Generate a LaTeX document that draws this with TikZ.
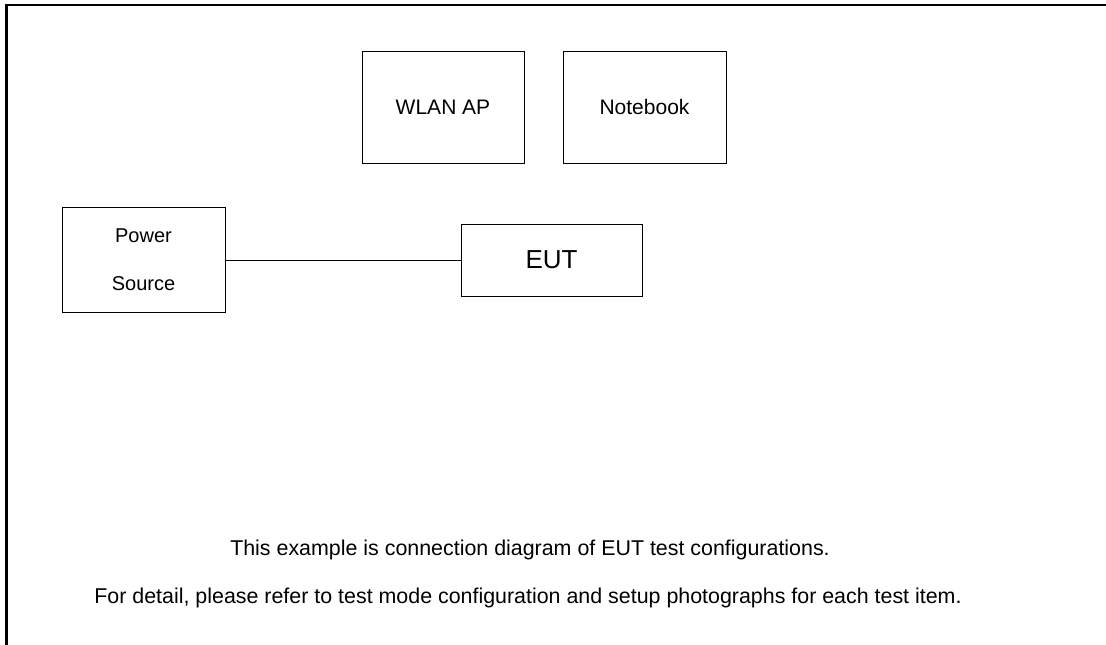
\documentclass[tikz,border=0pt]{standalone}
\usepackage{fontspec}
\setmainfont{Liberation Sans}
\usetikzlibrary{positioning}
\tikzset{>=latex}
\tikzstyle{unit} = [rectangle, draw=black, line width=1pt, inner sep=0pt, font=\fontsize{21}{25}\selectfont]
\tikzstyle{note} = [draw=none, inner sep=0pt, font=\fontsize{21.4}{25}\selectfont]

\begin{document}
\begin{tikzpicture}[x=1pt, y=-1pt]
\useasboundingbox (0,0) rectangle (1106,645);
\draw [line width=2.4pt] (6.5,645) -- (6.5,5) -- (1106,5);
\node [unit, minimum width=162pt, minimum height=112pt] (AP) at (443,107) {WLAN AP};
\node [unit, minimum width=163pt, minimum height=112pt] (NB) at (644.5,107) {Notebook};
\node [unit, minimum width=163pt, minimum height=105pt, align=center, font=\fontsize{20}{48}\selectfont] (PS) at (143.5,260) {Power\\Source};
\node [unit, minimum width=181pt, minimum height=72pt, font=\fontsize{26}{30}\selectfont] (EUT) at (551.5,260) {EUT};
\draw [-, line width=1pt] (PS) to (EUT);
\node [note] (N1) at (530,550) {This example is connection diagram of EUT test configurations.};
\node [note] (N2) at (528,598) {For detail, please refer to test mode configuration and setup photographs for each test item.};
\end{tikzpicture}
\end{document}
